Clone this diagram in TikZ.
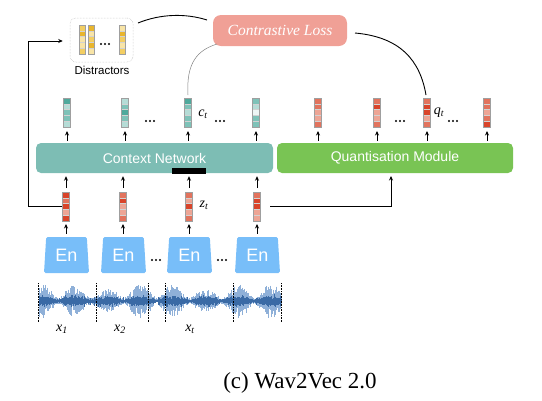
\documentclass[tikz,border=0pt]{standalone}
\usepackage{fontspec}
\setmainfont{Liberation Serif}
\setsansfont{Liberation Sans}
\usetikzlibrary{calc,arrows.meta,shapes.geometric}
\definecolor{tD}{HTML}{4FA99C}
\definecolor{tM}{HTML}{7EC2B8}
\definecolor{tL}{HTML}{B5DCD6}
\definecolor{tW}{HTML}{EEF6F5}
\definecolor{rD}{HTML}{D9442A}
\definecolor{rM}{HTML}{E2735D}
\definecolor{rL}{HTML}{EDA595}
\definecolor{yD}{HTML}{E9B52C}
\definecolor{yM}{HTML}{F3CE62}
\definecolor{yL}{HTML}{F8E4A6}
\definecolor{ctxcol}{HTML}{7DBDB4}
\definecolor{qcol}{HTML}{79C454}
\definecolor{encol}{HTML}{78BEF9}
\definecolor{losscol}{HTML}{F0A096}
\definecolor{wavelight}{HTML}{8FB0D8}
\definecolor{wavedark}{HTML}{3A6AA5}
\tikzset{
  vecbox/.style={minimum width=6.5pt, minimum height=29pt, inner sep=0pt, outer sep=0pt},
  arr/.style={-{Stealth[length=4.5pt,width=4pt]}, line width=0.8pt},
  block/.style={rounded corners=5pt, text=white, font=\sffamily\fontsize{14}{14}\selectfont, inner sep=0pt, minimum height=30pt},
  enbox/.style={trapezium, trapezium angle=80, trapezium stretches body, minimum width=45pt, minimum height=36pt, inner sep=0pt, fill=encol, text=white, rounded corners=1.5pt, font=\sffamily\fontsize{18}{18}\selectfont},
  lbl/.style={font=\fontsize{14}{14}\selectfont\itshape, inner sep=0pt},
  wire/.style={line width=0.9pt},
}
\newcommand\cellvec[4]{%
  \node[vecbox] (#1) at (#2,#3) {};
  \foreach \cc [count=\ii] in {#4}{\fill[\cc] ($(#1.north west)+(0,{(\ii-1)*5.8})$) rectangle ++(6.5,5.8);}
  \foreach \ii in {1,...,4}{\draw[gray!35, line width=0.3pt] ($(#1.north west)+(0,{\ii*5.8})$) -- ++(6.5,0);}
  \draw[gray!75, line width=0.7pt] (#1.north west) rectangle (#1.south east);
}
\newcommand\dotrow[2]{\foreach \dd in {-4,0,4}{\fill ({#1+\dd},#2) circle (1.2pt);}}
\begin{document}
\begin{tikzpicture}[x=1pt,y=-1pt]
\useasboundingbox (0,0) rectangle (542,400);

% distractors
\node[draw=gray!55, densely dotted, line width=0.5pt, rounded corners=6pt, minimum width=63pt, minimum height=44pt, inner sep=0pt] (dist) at (101.5,40) {};
\cellvec{d1}{82.5}{39.5}{yM,yD,yL,yL,yM}
\cellvec{d2}{91.5}{39.5}{yD,yL,yM,yD,yL}
\cellvec{d3}{122.5}{39.5}{yL,yD,yM,yL,yM}
\dotrow{105}{44}
\node[font=\sffamily\fontsize{11.5}{11.5}\selectfont, inner sep=0pt] (distlbl) at (102,70) {Distractors};

% loss
\node[fill=losscol, rounded corners=8pt, minimum width=134pt, minimum height=31pt, inner sep=0pt, text=white, font=\fontsize{15.5}{15.5}\selectfont\itshape] (loss) at (280,30.5) {Contrastive Loss};

% blocks
\node[block, fill=ctxcol, minimum width=237pt] (ctx) at (154.5,158) {Context Network};
\node[block, fill=qcol, minimum width=236pt] (quant) at (395,158) {Quantisation Module};
\fill (172,168) rectangle (206,174);

% context vectors
\cellvec{c1}{67}{112.5}{tD,tL,tM,tM,tL}
\cellvec{c2}{125}{112.5}{tL,tM,tD,tM,tL}
\cellvec{c3}{188}{112.5}{tD,tM,tL,tM,tM}
\cellvec{c4}{256}{112.5}{tM,tL,tW,tM,tM}
\dotrow{150}{121}
\dotrow{220}{121}
\node[lbl] (ct) at (203,114) {c\textsubscript{t}};

% quantised vectors
\cellvec{q1}{318}{112.5}{rM,rM,rL,rL,rM}
\cellvec{q2}{377}{112.5}{rM,rD,rL,rL,rM}
\cellvec{q3}{427}{112.5}{rM,rD,rD,rL,rM}
\cellvec{q4}{487}{112.5}{rM,rM,rL,rM,rD}
\dotrow{400}{121}
\dotrow{453}{121}
\node[lbl] (qt) at (439,113) {q\textsubscript{t}};

\foreach \v in {c1,c2,c3,c4}{\draw[arr, shorten <=2pt, shorten >=4pt] (\v.south |- ctx.north) -- (\v.south);}
\foreach \v in {q1,q2,q3,q4}{\draw[arr, shorten <=2pt, shorten >=4pt] (\v.south |- quant.north) -- (\v.south);}

% z vectors
\cellvec{z1}{66}{206.5}{rD,rM,rD,rL,rD}
\cellvec{z2}{123}{206.5}{rM,rD,rL,rL,rM}
\cellvec{z3}{189}{206.5}{rM,rL,rD,rL,rM}
\cellvec{z4}{257}{206.5}{rM,rD,rD,rL,rL}
\node[lbl] (zt) at (204,205) {z\textsubscript{t}};
\foreach \v in {z1,z2,z3,z4}{\draw[arr, shorten <=4pt, shorten >=3pt] (\v.north) -- (\v.north |- ctx.south);}

% encoders
\node[enbox] (e1) at (66.5,255) {En};
\node[enbox] (e2) at (123.5,255) {En};
\node[enbox] (e3) at (189.5,255) {En};
\node[enbox] (e4) at (257.5,255) {En};
\dotrow{156}{260}
\dotrow{222}{260}
\foreach \e/\v in {e1/z1,e2/z2,e3/z3,e4/z4}{\draw[arr, shorten <=3pt, shorten >=3pt] (\v.south |- \e.north) -- (\v.south);}

% side wires
\coordinate (lc) at (28,41);
\draw[arr, wire, shorten >=7pt] (z1.west) ++(-1,0) -| (lc) -- (lc -| dist.west);
\coordinate (qin) at (391,158);
\draw[arr, wire, shorten >=18pt] (z4.east) ++(10,0) -| (qin);

% curves
\coordinate (da) at (138,23);
\coordinate (db) at (207,20);
\draw[line width=0.9pt] (da) .. controls (160,14) and (185,13) .. (db);
\draw[gray, line width=0.5pt] (c3.north) ++(0,-3) .. controls (186,62) and (198,50) .. (217,44);
\coordinate (lr) at (355,33);
\draw[line width=0.9pt] (lr) .. controls (400,37) and (420,60) .. ($(q3.north)+(-1,-3)$);

% waveform
\pgfmathsetseed{11}
\foreach \x in {39,39.5,...,281}{
  \pgfmathsetmacro\env{3+15*(abs(sin(\x*5.5+40)))^1.5*(0.5+0.5*abs(sin(\x*1.7+10)))}
  \pgfmathsetmacro\ha{\env*(0.3+0.7*rnd)}
  \pgfmathsetmacro\hb{\env*(0.3+0.7*rnd)}
  \draw[wavelight, line width=0.5pt] (\x,301-\ha) -- (\x,301+\hb);
}
\foreach \x in {39,39.5,...,281}{
  \pgfmathsetmacro\env{1.2+3.5*abs(sin(\x*5.5+40))+3*(rnd)^5}
  \pgfmathsetmacro\ha{\env*(0.4+0.6*rnd)}
  \pgfmathsetmacro\hb{\env*(0.4+0.6*rnd)}
  \draw[wavedark, line width=0.45pt] (\x,301-\ha) -- (\x,301+\hb);
}
\foreach \x in {38,96,148,165,233,281}{\draw[densely dotted, line width=0.6pt] (\x,283) -- (\x,322);}
\node[lbl] (x1) at (62,329) {x\textsubscript{1}};
\node[lbl] (x2) at (120,329) {x\textsubscript{2}};
\node[lbl] (xt) at (190,329) {x\textsubscript{t}};

% caption
\node[font=\fontsize{23}{23}\selectfont, inner sep=0pt] (cap) at (300,383) {(c) Wav2Vec 2.0};
\end{tikzpicture}
\end{document}
